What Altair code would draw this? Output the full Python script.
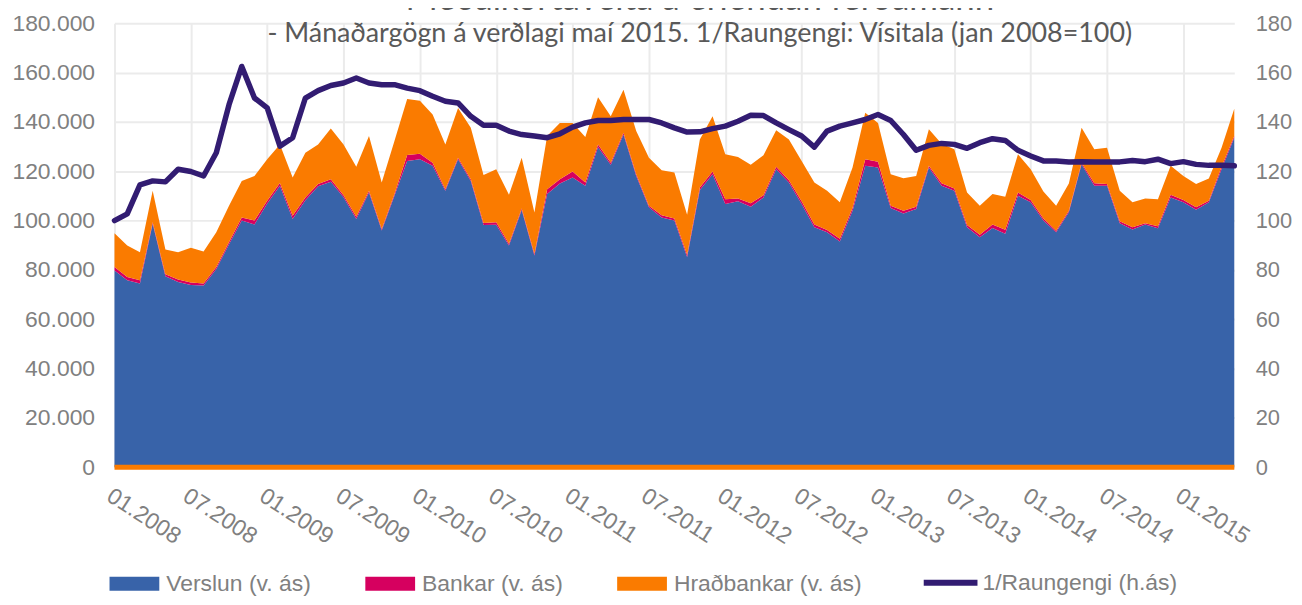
import altair as alt
import pandas as pd

# ---- categories -------------------------------------------------------------
months = [f"{m:02d}.{y}" for y in range(2008, 2016) for m in range(1, 13)][:89]
tick_months = months[::6]

series_names = ["Verslun (v. ás)", "Bankar (v. ás)", "Hraðbankar (v. ás)"]
line_name = "1/Raungengi (h.ás)"

title_text = "Meðalkortavelta á erlendan ferðamann"
subtitle_text = "- Mánaðargögn á verðlagi maí 2015. 1/Raungengi: Vísitala (jan 2008=100)"

# ---- values (thousand ISK, left axis) --------------------------------------
verslun = [
    79.8, 75.8, 74.5, 98.7, 77.4, 75.1, 73.9, 73.7, 80.4, 90.4,
    100.0, 98.4, 106.9, 114.1, 100.7, 108.3, 113.9, 115.8, 109.5, 100.7,
    111.4, 96.0, 110.1, 124.2, 124.9, 122.2, 112.1, 124.9, 116.1, 98.2,
    98.3, 89.9, 104.3, 85.9, 110.8, 115.0, 117.5, 114.1, 129.8, 122.6,
    134.9, 118.1, 105.4, 101.3, 100.0, 85.2, 112.4, 118.8, 106.7, 107.8,
    105.6, 109.4, 120.8, 115.4, 106.7, 97.3, 95.3, 91.5, 104.0, 122.2,
    121.5, 105.1, 102.9, 104.7, 121.5, 114.1, 112.1, 97.3, 93.3, 97.0,
    94.7, 110.1, 107.4, 100.0, 95.3, 103.4, 122.8, 114.1, 114.1, 98.9,
    96.4, 98.4, 96.9, 109.4, 107.4, 104.4, 107.4, 120.8, 133.6,
]
bankar = [
    1.4, 1.3, 1.3, 0.6, 0.8, 1.0, 1.0, 0.8, 0.8, 0.9,
    1.3, 1.6, 1.1, 1.1, 1.3, 1.1, 0.9, 1.0, 0.8, 0.9,
    0.7, 0.6, 0.7, 2.4, 2.2, 1.3, 0.6, 0.6, 0.7, 0.8,
    1.0, 0.7, 0.6, 0.7, 1.9, 1.8, 2.4, 1.3, 1.1, 0.9,
    0.7, 0.7, 0.6, 0.9, 0.9, 1.0, 1.0, 1.1, 2.0, 1.2,
    1.4, 0.9, 1.0, 1.0, 1.1, 1.1, 0.9, 1.1, 1.1, 2.7,
    2.4, 0.9, 1.1, 0.9, 0.7, 1.0, 0.9, 0.9, 1.0, 1.4,
    1.6, 1.3, 1.0, 0.9, 0.6, 0.6, 0.7, 1.0, 0.7, 0.8,
    0.9, 0.5, 0.8, 1.1, 1.0, 1.0, 0.6, 1.0, 0.7,
]
hradbankar = [
    13.7, 12.8, 11.4, 12.8, 10.1, 11.1, 14.1, 13.0, 14.1, 14.7,
    14.8, 18.1, 16.9, 15.7, 15.5, 18.1, 16.1, 20.5, 20.6, 20.2,
    22.2, 18.8, 21.5, 22.7, 21.5, 19.5, 18.2, 20.2, 20.8, 19.5,
    21.5, 19.9, 20.6, 16.7, 21.6, 22.8, 19.7, 18.5, 19.1, 18.8,
    17.5, 17.5, 19.5, 18.2, 18.6, 16.2, 19.5, 22.4, 18.2, 16.8,
    15.6, 16.2, 14.8, 16.5, 16.4, 17.0, 15.9, 14.8, 16.4, 18.8,
    15.7, 12.8, 13.2, 12.5, 14.8, 16.1, 15.9, 13.2, 11.7, 12.4,
    13.4, 15.5, 12.4, 10.9, 10.1, 11.0, 14.1, 13.8, 14.7, 12.4,
    10.1, 10.1, 11.0, 11.7, 9.7, 9.4, 9.1, 7.7, 11.1,
]
# ---- index (right axis) -----------------------------------------------------
raungengi = [
    100.0, 102.7, 114.5, 116.1, 115.7, 120.8, 119.9, 118.1, 127.5, 147.0,
    162.5, 149.7, 145.7, 130.2, 133.6, 149.7, 152.7, 154.8, 155.8, 157.8,
    155.8, 155.1, 155.1, 153.7, 152.7, 150.4, 148.4, 147.7, 142.3, 138.7,
    138.7, 136.3, 134.9, 134.3, 133.6, 135.2, 137.9, 139.6, 140.6, 140.6,
    141.0, 141.0, 141.0, 139.6, 137.6, 135.9, 136.0, 137.3, 138.3, 140.3,
    142.7, 142.6, 139.6, 136.9, 134.3, 129.8, 136.3, 138.3, 139.6, 141.0,
    143.0, 140.6, 134.9, 128.5, 130.5, 131.3, 130.9, 129.3, 131.6, 133.2,
    132.5, 128.5, 126.2, 124.2, 124.2, 123.8, 123.9, 123.8, 123.8, 123.8,
    124.4, 123.9, 124.9, 123.1, 123.9, 122.8, 122.4, 122.4, 122.2,
]

area_colors = ["#3863A9", "#D6005F", "#FA7B00"]
line_color = "#321C72"
label_color = "#808080"
grid_color = "#EBEBEB"
axis_font = "Liberation Sans"

# ---- tables -----------------------------------------------------------------
rows = []
for i, m in enumerate(months):
    for k, vals in enumerate([verslun, bankar, hradbankar]):
        rows.append({"month": m, "series": series_names[k], "value": vals[i], "ord": k})
area_df = pd.DataFrame(rows)
line_df = pd.DataFrame({"month": months, "series": line_name, "value": raungengi})
base_df = pd.DataFrame({"value": [0]})
title_df = pd.DataFrame({"t": [title_text], "s": [subtitle_text]})

x_scale = alt.Scale(type="point", padding=0, domain=months)
x_axis = alt.Axis(
    values=tick_months, labelAngle=33, labelAlign="left", labelBaseline="top",
    labelPadding=17, labelOverlap=False, grid=True, gridColor=grid_color, gridWidth=2,
    ticks=False, domain=False, title=None, labelFont=axis_font, labelFontSize=23,
    labelColor=label_color,
)

left_axis = alt.Axis(
    values=list(range(0, 181, 20)), grid=True, gridColor=grid_color, gridWidth=2,
    ticks=False, domain=False, title=None, labelFont=axis_font, labelFontSize=23,
    labelColor=label_color, labelPadding=20,
    labelExpr="datum.value == 0 ? '0' : datum.value + '.000'",
)
right_axis = alt.Axis(
    orient="right", values=list(range(0, 181, 20)), grid=False, ticks=False,
    domain=False, title=None, labelFont=axis_font, labelFontSize=22,
    labelColor=label_color, labelPadding=21,
)

area = alt.Chart(area_df).mark_area(opacity=1).encode(
    x=alt.X("month:O", scale=x_scale, axis=x_axis),
    y=alt.Y("value:Q", stack="zero", scale=alt.Scale(domain=[0, 180]), axis=left_axis),
    color=alt.Color(
        "series:N",
        scale=alt.Scale(domain=series_names, range=area_colors),
        legend=alt.Legend(
            orient="none", legendX=-5, legendY=538, direction="horizontal", columns=3,
            title=None, symbolType="M-1,-0.28L1,-0.28L1,0.28L-1,0.28Z", symbolSize=2500,
            symbolStrokeWidth=0, labelFont=axis_font, labelFontSize=23, labelLimit=400,
            labelColor=label_color, columnPadding=54, labelOffset=7, padding=0,
        ),
    ),
    order=alt.Order("ord:Q"),
)

base_rule = alt.Chart(base_df).mark_rule(color=area_colors[2], strokeWidth=5).encode(
    y=alt.Y("value:Q", title=None)
)

line = alt.Chart(line_df).mark_line(strokeWidth=5.5, strokeJoin="round", strokeCap="round").encode(
    x=alt.X("month:O", scale=x_scale, axis=x_axis),
    y=alt.Y("value:Q", scale=alt.Scale(domain=[0, 180]), axis=right_axis),
    stroke=alt.Stroke(
        "series:N",
        scale=alt.Scale(domain=[line_name], range=[line_color]),
        legend=alt.Legend(
            orient="none", legendX=810, legendY=532, direction="horizontal",
            title=None, symbolType="M-1,0L1,0", symbolSize=2916, symbolStrokeWidth=6,
            labelFont=axis_font, labelFontSize=23, labelColor=label_color, labelLimit=400,
            labelOffset=2, padding=0,
        ),
    ),
)

title_mark = alt.Chart(title_df).mark_text(
    font="Lato", fontSize=35, color="#595959", align="center", baseline="alphabetic"
).encode(text="t:N", x=alt.value(588), y=alt.value(-13))

subtitle_mark = alt.Chart(title_df).mark_text(
    font="Lato", fontSize=27, color="#595959", align="center", baseline="alphabetic"
).encode(text="s:N", x=alt.value(588), y=alt.value(19))

left = alt.layer(area, base_rule)
chart = (
    alt.layer(left, line, title_mark, subtitle_mark)
    .resolve_scale(y="independent")
    .properties(
        width=1125, height=446,
        autosize=alt.AutoSizeParams(type="none"),
        padding={"left": 107, "top": 14, "right": 60, "bottom": 128},
        background="white",
    )
    .configure_view(stroke=None)
)

chart.save("out.html", embed_options={"renderer": "svg", "actions": False})
